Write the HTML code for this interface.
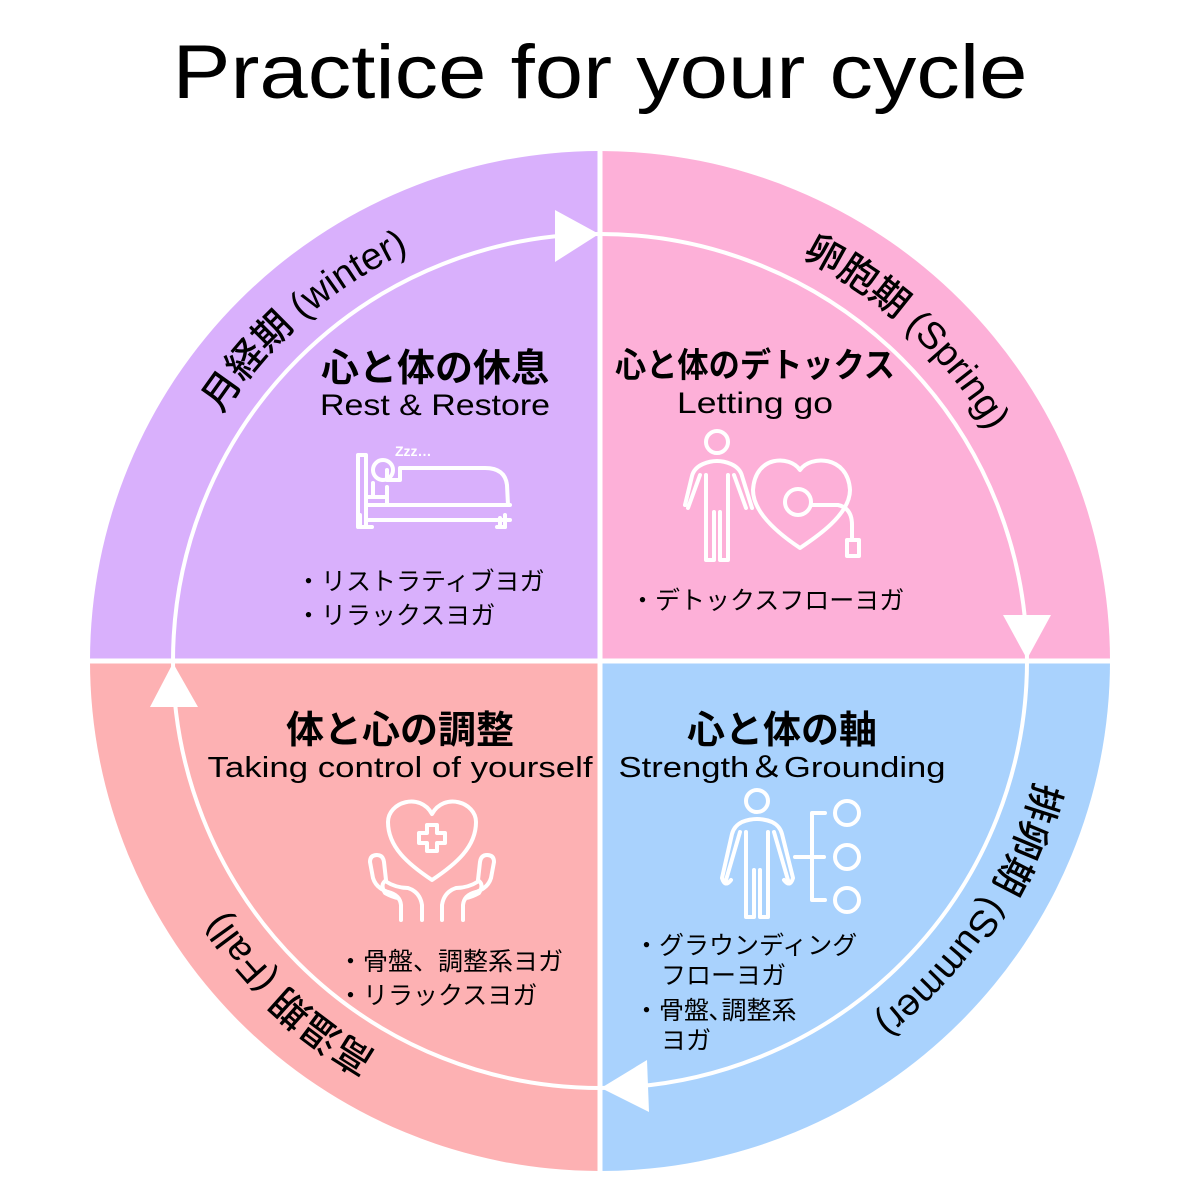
<!DOCTYPE html>
<html><head><meta charset="utf-8"><style>
html,body{margin:0;padding:0;background:#fff}
svg{display:block}
.jp{font-family:"Liberation Sans","Noto Sans CJK JP",sans-serif}
</style></head><body>
<svg width="1200" height="1200" viewBox="0 0 1200 1200" xmlns="http://www.w3.org/2000/svg" class="jp">
<defs>
<path id="ring" d="M148,661 A452,452 0 1 1 1052,661 A452,452 0 1 1 148,661"/>
</defs>
<text x="600" y="98" text-anchor="middle" font-size="76" font-weight="500" textLength="855" lengthAdjust="spacingAndGlyphs" fill="#000">Practice for your cycle</text>
<!-- quadrants -->
<path d="M600,661 L90,661 A510,510 0 0 1 600,151 Z" fill="#d9b0fc"/>
<path d="M600,661 L600,151 A510,510 0 0 1 1110,661 Z" fill="#fdb0d8"/>
<path d="M600,661 L1110,661 A510,510 0 0 1 600,1171 Z" fill="#a9d2fd"/>
<path d="M600,661 L600,1171 A510,510 0 0 1 90,661 Z" fill="#fdb1b3"/>
<line x1="600" y1="148" x2="600" y2="1175" stroke="#fff" stroke-width="5"/>
<line x1="86" y1="661" x2="1114" y2="661" stroke="#fff" stroke-width="5"/>
<circle cx="600" cy="661" r="427" fill="none" stroke="#fff" stroke-width="4"/>
<!-- arrowheads -->
<polygon points="599,234 555,210 555,262" fill="#fff"/>
<polygon points="1027,659 1003,615 1051,615" fill="#fff"/>
<polygon points="601,1088 647,1060 649,1112" fill="#fff"/>
<polygon points="173,663 150,707 198,707" fill="#fff"/>
<!-- arc labels -->
<g font-size="38" font-weight="500" fill="#000">
<text><textPath href="#ring" startOffset="387" text-anchor="middle">月経期 (winter)</textPath></text>
<text><textPath href="#ring" startOffset="1049" text-anchor="middle">卵胞期 (Spring)</textPath></text>
<text><textPath href="#ring" startOffset="1688" text-anchor="middle">排卵期 (Summer)</textPath></text>
<text><textPath href="#ring" startOffset="2469" text-anchor="middle">高温期 (Fall)</textPath></text>
</g>
<!-- headings -->
<g fill="#000" text-anchor="middle">
<text x="435" y="381" font-size="38" font-weight="bold">心と体の休息</text>
<text x="435" y="415" font-size="30" textLength="230" lengthAdjust="spacingAndGlyphs">Rest &amp; Restore</text>
<text x="755" y="377" font-size="34" font-weight="bold" textLength="280" lengthAdjust="spacingAndGlyphs">心と体のデトックス</text>
<text x="755" y="413" font-size="30" textLength="156" lengthAdjust="spacingAndGlyphs">Letting go</text>
<text x="400" y="743" font-size="38" font-weight="bold">体と心の調整</text>
<text x="400" y="777" font-size="29" textLength="385" lengthAdjust="spacingAndGlyphs">Taking control of yourself</text>
<text x="782" y="743" font-size="38" font-weight="bold">心と体の軸</text>
<text x="782" y="777" font-size="29" textLength="327" lengthAdjust="spacingAndGlyphs">Strength＆Grounding</text>
</g>
<!-- bullets -->
<g fill="#000" font-size="25">
<text x="296" y="590">・リストラティブヨガ</text>
<text x="296" y="624">・リラックスヨガ</text>
<text x="630" y="609">・デトックスフローヨガ</text>
<text x="338" y="970">・骨盤、調整系ヨガ</text>
<text x="338" y="1004">・リラックスヨガ</text>
<text x="634" y="954">・グラウンディング</text>
<text x="661" y="984">フローヨガ</text>
<text x="634" y="1019">・骨盤､調整系</text>
<text x="661" y="1049">ヨガ</text>
</g>
<!-- icons -->
<g fill="none" stroke="#fff" stroke-width="4" stroke-linecap="round" stroke-linejoin="round">
<!-- bed -->
<path d="M358,527 V455 h8 V527 M366,505 H510 M366,520 H510 M372,527 h-10 M505,527 V518 M500,527 V518"/>
<path d="M366,505 V515 M360,515 v12 h8 M505,515 v12 h-8"/>
<path d="M387,505 V487 M366,497 H387 M373,497 V483 M387,470 V480 H400 V468 H485 Q505,468 507,485 L508,505"/>
<circle cx="383" cy="470" r="10"/>
<!-- person right -->
<circle cx="717" cy="442" r="11"/>
<path d="M700,475 L688,508 M734,475 L746,508 M703,464 Q717,458 731,464 Q740,468 742,476 L752,508 M703,464 Q694,468 692,476 L685,505 M706,475 V560 M728,475 V560 M706,560 H714 V512 M720,512 V560 H728"/>
<path d="M800,470 C790,455 755,455 753,490 C753,515 785,538 800,548 C815,538 850,515 850,490 C848,455 810,455 800,470 Z"/>
<circle cx="798" cy="502" r="13"/>
<path d="M811,505 H838 Q852,508 852,525 V540"/>
<rect x="847" y="540" width="12" height="16"/>
<!-- hands heart -->
<path d="M432,858 C408,842 388,825 388,800 C388,780 420,770 432,792 C444,770 476,780 476,800 C476,825 456,842 432,858 Z" transform="translate(0,22)"/>
<path d="M427,833 v-8 h10 v8 h8 v10 h-8 v8 h-10 v-8 h-8 v-10 z"/>
<path d="M401,920 V905 Q400,895 388,892 Q376,888 373,878 L370,862 Q370,855 377,855 Q383,855 384,862 L386,880 M385,881 Q396,888 408,888 Q420,892 422,905 V920 M385,881 Q380,885 385,893 Q392,897 398,898"/>
<path d="M463,920 V905 Q464,895 476,892 Q488,888 491,878 L494,862 Q494,855 487,855 Q481,855 480,862 L478,880 M479,881 Q468,888 456,888 Q444,892 442,905 V920 M479,881 Q484,885 479,893 Q472,897 466,898"/>
<!-- person grounding -->
<circle cx="757" cy="801" r="11"/>
<path d="M740,832 L726,880 M774,832 L788,880 M742,822 Q757,816 772,822 Q780,826 782,834 L793,878 Q790,888 784,880 M742,822 Q734,826 732,834 L722,878 Q725,888 731,880 M746,832 V917 M768,832 V917 M746,917 H754 V870 M760,870 V917 H768"/>
<path d="M795,857 H824 M812,813 V900 M812,813 H825 M812,900 H825"/>
<circle cx="847" cy="813" r="12"/><circle cx="847" cy="857" r="12"/><circle cx="847" cy="900" r="12"/>
</g>
<text x="395" y="456" font-size="14" font-weight="bold" fill="#fff">Zzz…</text>
</svg>
</body></html>
